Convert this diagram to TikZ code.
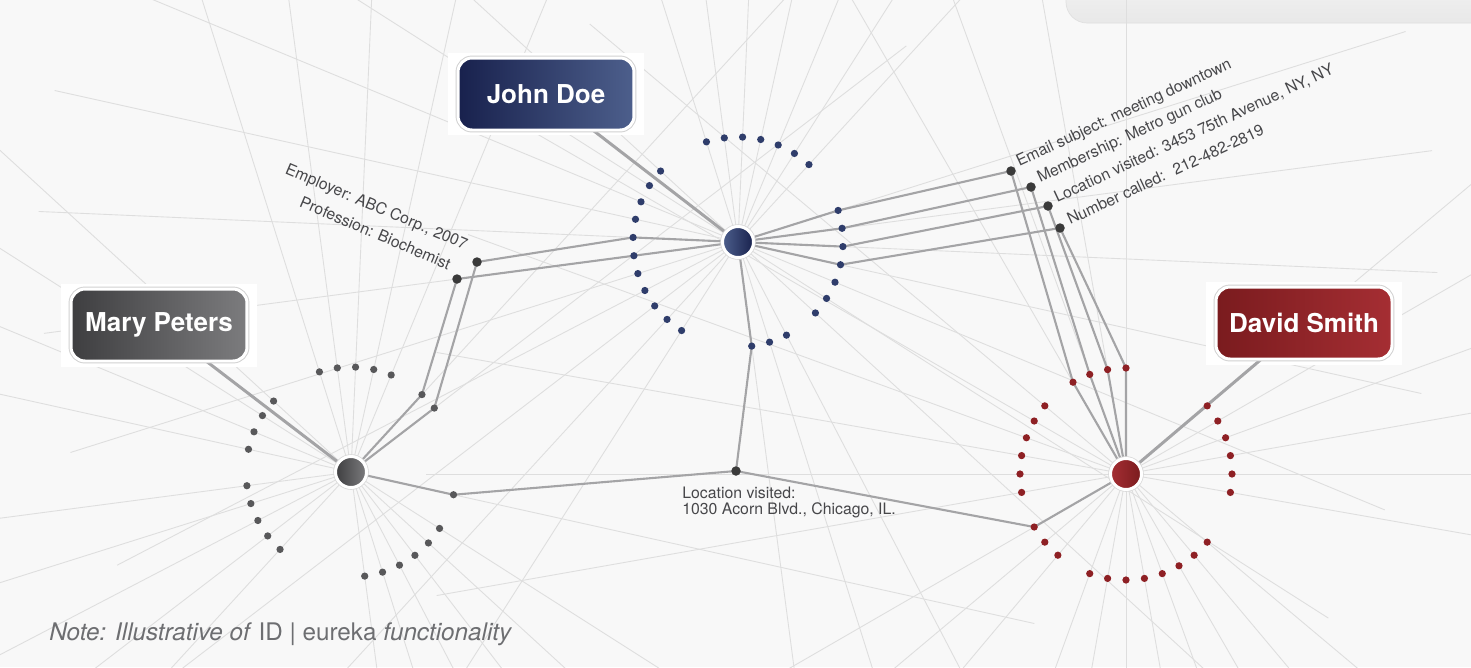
\documentclass[tikz,border=0pt]{standalone}
\usepackage{fontspec}
\setmainfont{TeX Gyre Heros}
\usepackage{xcolor}
\definecolor{bg-grey}{HTML}{F8F8F8}
\definecolor{spoke-grey}{HTML}{DEDEDE}
\definecolor{link-grey}{HTML}{A4A4A6}
\definecolor{label-grey}{HTML}{47474A}
\definecolor{note-grey}{HTML}{6D6E71}
\definecolor{navy-dark}{HTML}{18214D}
\definecolor{navy-light}{HTML}{4D5F8C}
\definecolor{navy-dot}{HTML}{2F3D6B}
\definecolor{red-dark}{HTML}{7A1B1E}
\definecolor{red-light}{HTML}{A52E33}
\definecolor{red-dot}{HTML}{8E2024}
\definecolor{grey-dark}{HTML}{3E3E40}
\definecolor{grey-light}{HTML}{7C7C7E}
\definecolor{grey-dot}{HTML}{58585A}
\definecolor{fact-dot}{HTML}{3A3A3A}
\usepackage{tikz}
\usetikzlibrary{calc}
\usetikzlibrary{backgrounds}
\pgfdeclarelayer{links}
\pgfsetlayers{background,links,main}
\tikzset{namebox/.style = {rounded corners=8pt, minimum width=3.52cm, minimum height=1.44cm, text=white, font=\fontsize{14.8}{17}\selectfont\bfseries, draw=white, line width=1.7pt, preaction={draw=black!18, line width=2.8pt}}}
\tikzset{backdrop/.style = {fill=white, minimum width=3.94cm, minimum height=1.66cm, inner sep=0}}
\tikzset{hub/.style = {circle, minimum size=0.62cm, inner sep=0, draw=white, line width=1.7pt, preaction={draw=black!15, line width=2.6pt}}}
\tikzset{dot/.style = {circle, minimum size=0.145cm, inner sep=0}}
\tikzset{fact/.style = {circle, minimum size=0.19cm, inner sep=0, fill=fact-dot}}
\tikzset{spoke/.style = {spoke-grey, line width=0.5pt}}
\tikzset{link/.style = {link-grey, line width=1.2pt}}
\tikzset{boxlink/.style = {link-grey, line width=1.7pt}}
\tikzset{lbl/.style = {inner sep=0, text=label-grey, font=\fontsize{9}{9}\selectfont}}

\begin{document}
\begin{tikzpicture}[x=0.02cm, y=-0.02cm]
\useasboundingbox (0,0) rectangle (1471,667);

\node[hub, left color=navy-light, right color=navy-dark] (jd-hub) at (738,242) {};
\node[hub, left color=grey-dark, right color=grey-light] (mp-hub) at (351,472) {};
\node[hub, left color=red-light, right color=red-dark] (ds-hub) at (1126,474) {};

\node[namebox, left color=navy-dark, right color=navy-light] (jd) at (546,94) {John Doe};
\node[namebox, left color=grey-dark, right color=grey-light] (mp) at (159,325) {Mary Peters};
\node[namebox, left color=red-dark, right color=red-light] (ds) at (1304,323) {David Smith};

% dots round each hub
\foreach \k [evaluate=\k as \a using 10*\k+2.5] in {-11,-10,-9,-8,-7,-6,-5,-2,-1,0,1,2,3,4,6,7,8,12,13,14,15,16,17,18,19,20,21,22}
  \node[dot, fill=navy-dot] (j\k) at ($(jd-hub)+(\a:105)$) {};
\foreach \k [evaluate=\k as \a using 10*\k+2.5] in {-11,-10,-9,-8,-7,-5,-4,1,3,4,5,6,7,8,13,14,15,16,17,19,20,21,22}
  \node[dot, fill=grey-dot] (m\k) at ($(mp-hub)+(\a:105)$) {};
\foreach \k [evaluate=\k as \a using 10*\k] in {-12,-11,-10,-9,-4,-3,-2,-1,0,1,4,5,6,7,8,9,10,11,13,14,15,17,18,19,20,21,22}
  \node[dot, fill=red-dot] (d\k) at ($(ds-hub)+(\a:106)$) {};

\node[fact] (employer) at (477,262) {};
\node[fact] (profession) at (457,279) {};
\node[fact] (email) at (1011,171) {};
\node[fact] (member) at (1031,187) {};
\node[fact] (address) at (1048,206) {};
\node[fact] (phone) at (1060,228) {};
\node[fact] (chicago) at (736,471) {};

\begin{scope}[on background layer]
  \clip (0,0) rectangle (1471,667);
  \fill[bg-grey] (0,0) rectangle (1471,667);
  \draw[black!12, top color=black!3, bottom color=black!9, rounded corners=12pt] (1066,-40) rectangle (1500,23);
  \foreach \k [evaluate=\k as \a using 10*\k+2.5] in {-11,-10,-9,-8,-7,-6,-5,-2,-1,0,1,2,3,4,6,7,8,12,13,14,15,16,17,18,19,20,21,22}
    \draw[spoke] (jd-hub.center) -- ($(jd-hub)+(\a:700)$);
  \foreach \k [evaluate=\k as \a using 10*\k+2.5] in {-11,-10,-9,-8,-7,-5,-4,1,3,4,5,6,7,8,13,14,15,16,17,19,20,21,22}
    \draw[spoke] (mp-hub.center) -- ($(mp-hub)+(\a:700)$);
  \foreach \k [evaluate=\k as \a using 10*\k] in {-12,-11,-10,-9,-4,-3,-2,-1,0,1,4,5,6,7,8,9,10,11,13,14,15,17,18,19,20,21,22}
    \draw[spoke] (ds-hub.center) -- ($(ds-hub)+(\a:700)$);
  \node[backdrop] (jd-back) at (jd) {};
  \node[backdrop] (mp-back) at (mp) {};
  \node[backdrop] (ds-back) at (ds) {};
\end{scope}

\begin{pgfonlayer}{links}
\draw[boxlink] (jd-hub.center) -- (jd.center);
\draw[boxlink] (mp-hub.center) -- (mp.center);
\draw[boxlink] (ds-hub.center) -- (ds.center);
\draw[link] (mp-hub.center) -- (m-5.center) -- (profession.center) -- (j17.center) -- (jd-hub.center);
\draw[link] (mp-hub.center) -- (m-4.center) -- (employer.center) -- (j18.center) -- (jd-hub.center);
\draw[link] (jd-hub.center) -- (j-2.center) -- (email.center) -- (d-12.center) -- (ds-hub.center);
\draw[link] (jd-hub.center) -- (j-1.center) -- (member.center) -- (d-11.center) -- (ds-hub.center);
\draw[link] (jd-hub.center) -- (j0.center) -- (address.center) -- (d-10.center) -- (ds-hub.center);
\draw[link] (jd-hub.center) -- (j1.center) -- (phone.center) -- (d-9.center) -- (ds-hub.center);
\draw[link] (jd-hub.center) -- (j8.center) -- (chicago.center) -- (m1.center) -- (mp-hub.center);
\draw[link] (chicago.center) -- (d15.center) -- (ds-hub.center);
\end{pgfonlayer}

\node[lbl, rotate=-23, anchor=base east] (employer-txt) at ($(employer)+(-12,-12)$) {Employer: ABC Corp., 2007};
\node[lbl, rotate=-23, anchor=base east] (profession-txt) at ($(profession)+(-9,-9)$) {Profession: Biochemist};
\node[lbl, rotate=25, anchor=base west] (email-txt) at ($(email)+(8,-4)$) {Email subject: meeting downtown};
\node[lbl, rotate=25, anchor=base west] (member-txt) at ($(member)+(9,-4)$) {Membership: Metro gun club};
\node[lbl, rotate=25, anchor=base west] (address-txt) at ($(address)+(9,-3)$) {Location visited: 3453 75th Avenue, NY, NY};
\node[lbl, rotate=25, anchor=base west] (phone-txt) at ($(phone)+(10,-3)$) {Number called:~ 212-482-2819};
\node[lbl, anchor=north west, align=left] (chicago-txt) at ($(chicago)+(-54,16)$) {Location visited:\\1030 Acorn Blvd., Chicago, IL.};

\node[anchor=base west, inner sep=0, text=note-grey, font=\fontsize{13.8}{16}\selectfont] (note) at (49,640) {\textit{Note: Illustrative of} ID | eureka \textit{functionality}};

\end{tikzpicture}
\end{document}
